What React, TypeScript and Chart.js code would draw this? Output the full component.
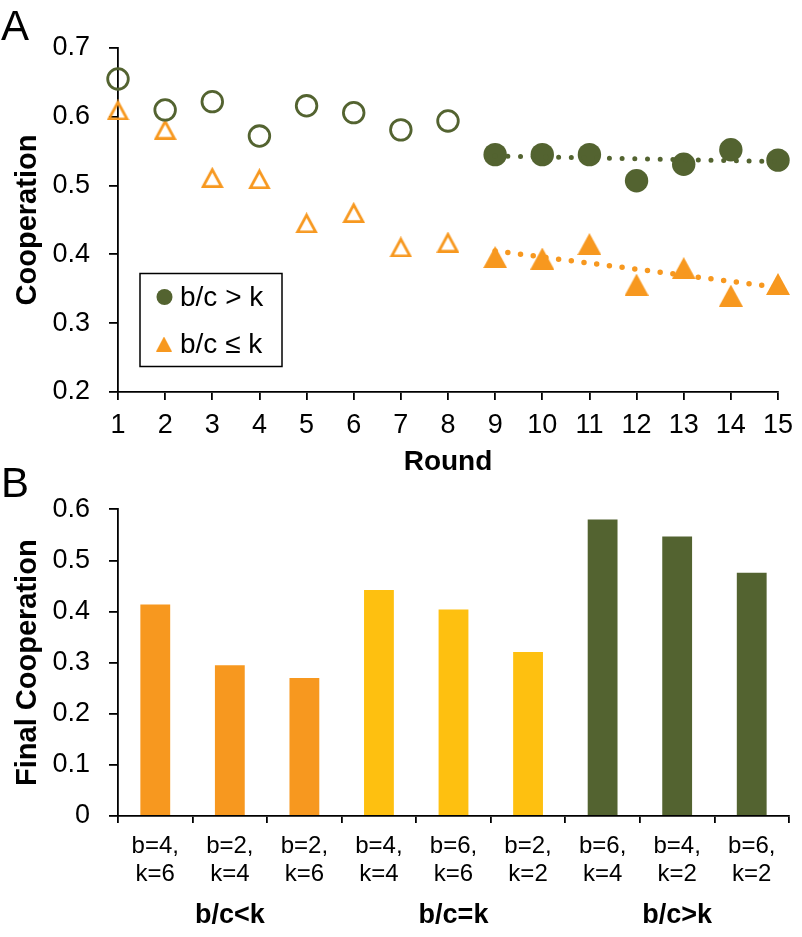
import React, { useEffect, useRef } from "react";
import { Chart, registerables } from "chart.js";

Chart.register(...registerables);

// ---------- Data ----------
const rounds = [1, 2, 3, 4, 5, 6, 7, 8, 9, 10, 11, 12, 13, 14, 15];
const coopHigh = [0.655, 0.61, 0.622, 0.572, 0.616, 0.606, 0.581, 0.594, 0.545, 0.545, 0.545, 0.507, 0.531, 0.552, 0.537];
const coopLow = [0.61, 0.582, 0.512, 0.51, 0.446, 0.461, 0.411, 0.418, 0.396, 0.394, 0.415, 0.356, 0.38, 0.34, 0.357];
const openRoundCount = 8; // rounds 1-8 open markers, 9-15 filled
const trendRounds = [9, 15];
const trendHigh = [0.543, 0.535];
const trendLow = [0.405, 0.352];
const legendLabels = ["b/c > k", "b/c \u2264 k"];

const barLabels = [
  ["b=4,", "k=6"],
  ["b=2,", "k=4"],
  ["b=2,", "k=6"],
  ["b=4,", "k=4"],
  ["b=6,", "k=6"],
  ["b=2,", "k=2"],
  ["b=6,", "k=4"],
  ["b=4,", "k=2"],
  ["b=6,", "k=2"],
];
const barValues = [0.414, 0.295, 0.27, 0.442, 0.404, 0.321, 0.58, 0.547, 0.476];
const barGroupIndex = [0, 0, 0, 1, 1, 1, 2, 2, 2];
const groupLabels = ["b/c<k", "b/c=k", "b/c>k"];

// ---------- Styles ----------
const GREEN = "#536330";
const ORANGE = "#F7981F";
const YELLOW = "#FEC010";
const groupColors = [ORANGE, YELLOW, GREEN];
const FONT = "'Liberation Sans', Arial, Helvetica, sans-serif";

function triangleCanvas(w: number, h: number, color: string, filled: boolean, lw: number) {
  const c = document.createElement("canvas");
  c.width = w;
  c.height = h;
  const ctx = c.getContext("2d")!;
  ctx.beginPath();
  if (filled) {
    ctx.moveTo(w / 2, 0);
    ctx.lineTo(w, h);
    ctx.lineTo(0, h);
  } else {
    ctx.moveTo(w / 2, lw);
    ctx.lineTo(w - lw * 0.87, h - lw / 2);
    ctx.lineTo(lw * 0.87, h - lw / 2);
  }
  ctx.closePath();
  if (filled) {
    ctx.fillStyle = color;
    ctx.fill();
  } else {
    ctx.lineJoin = "miter";
    ctx.lineWidth = lw;
    ctx.strokeStyle = color;
    ctx.stroke();
  }
  return c;
}

const pts = (xs: number[], ys: number[]) => xs.map((x, i) => ({ x, y: ys[i] }));

export default function App() {
  const refA = useRef<HTMLCanvasElement>(null);
  const refB = useRef<HTMLCanvasElement>(null);

  useEffect(() => {
    const openTri = triangleCanvas(23, 21, ORANGE, false, 2.8);
    const fullTri = triangleCanvas(24, 22, ORANGE, true, 0);
    const legendTri = triangleCanvas(16, 15, ORANGE, true, 0);

    const panelLabel = (letter: string, baseline: number) => ({
      id: "panelLabel" + letter,
      afterDraw(chart: any) {
        const ctx = chart.ctx;
        ctx.save();
        ctx.fillStyle = "#000";
        ctx.font = `42px ${FONT}`;
        ctx.textAlign = "left";
        ctx.textBaseline = "alphabetic";
        ctx.fillText(letter, 1, baseline);
        ctx.restore();
      },
    });

    const legendPlugin = {
      id: "customLegend",
      afterDraw(chart: any) {
        const ctx = chart.ctx;
        const a = chart.chartArea;
        const bx = a.left + 22;
        const by = a.top + 225.5;
        ctx.save();
        ctx.strokeStyle = "#000";
        ctx.lineWidth = 1.5;
        ctx.strokeRect(bx, by, 142, 93);
        ctx.fillStyle = GREEN;
        ctx.beginPath();
        ctx.arc(bx + 24.5, by + 23.5, 8, 0, Math.PI * 2);
        ctx.fill();
        ctx.drawImage(legendTri, bx + 16, by + 63);
        ctx.fillStyle = "#000";
        ctx.font = `28px ${FONT}`;
        ctx.textAlign = "left";
        ctx.textBaseline = "alphabetic";
        ctx.fillText(legendLabels[0], bx + 40, by + 32.5);
        ctx.fillText(legendLabels[1], bx + 40, by + 79.5);
        ctx.restore();
      },
    };

    const axisCommon = {
      grid: { drawOnChartArea: false, drawTicks: true, color: "#000", lineWidth: 1.8 },
      border: { color: "#000", width: 1.8 },
    };

    const chartA = new Chart(refA.current!, {
      type: "scatter",
      data: {
        datasets: [
          {
            data: pts(trendRounds, trendHigh),
            showLine: true,
            borderColor: GREEN,
            borderWidth: 5,
            borderDash: [0, 12.7],
            borderCapStyle: "round",
            pointRadius: 0,
            clip: false,
            order: 0,
          } as any,
          {
            data: pts(trendRounds, trendLow),
            showLine: true,
            borderColor: ORANGE,
            borderWidth: 5.5,
            borderDash: [0, 12.8],
            borderCapStyle: "round",
            pointRadius: 0,
            clip: false,
            order: 0,
          },
          {
            data: pts(rounds.slice(0, openRoundCount), coopHigh.slice(0, openRoundCount)),
            pointStyle: "circle",
            pointRadius: 10.3,
            pointBorderWidth: 2.8,
            pointBorderColor: GREEN,
            pointBackgroundColor: "rgba(0,0,0,0)",
            clip: false,
            order: 1,
          },
          {
            data: pts(rounds.slice(openRoundCount), coopHigh.slice(openRoundCount)),
            pointStyle: "circle",
            pointRadius: 11.7,
            pointBorderWidth: 0,
            pointBorderColor: GREEN,
            pointBackgroundColor: GREEN,
            clip: false,
            order: 1,
          },
          {
            data: pts(rounds.slice(0, openRoundCount), coopLow.slice(0, openRoundCount)),
            pointStyle: openTri,
            pointRadius: 11,
            clip: false,
            order: 1,
          },
          {
            data: pts(rounds.slice(openRoundCount), coopLow.slice(openRoundCount)),
            pointStyle: fullTri,
            pointRadius: 12,
            clip: false,
            order: 1,
          },
        ],
      },
      options: {
        responsive: false,
        animation: false,
        devicePixelRatio: 1,
        layout: { padding: { top: 48, right: 19, left: 0, bottom: 0 } },
        plugins: { legend: { display: false }, tooltip: { enabled: false } },
        scales: {
          x: {
            type: "linear",
            min: 1,
            max: 15,
            ...axisCommon,
            grid: { ...axisCommon.grid, tickLength: 8 },
            ticks: {
              stepSize: 1,
              color: "#000",
              font: { family: FONT, size: 27 },
              padding: 9,
              maxRotation: 0,
              autoSkip: false,
            },
            title: {
              display: true,
              text: "Round",
              color: "#000",
              font: { family: FONT, size: 28, weight: "bold" },
              padding: { top: 0, bottom: 1 },
            },
            afterFit: (s: any) => {
              s.height = 88;
            },
          },
          y: {
            min: 0.2,
            max: 0.7,
            ...axisCommon,
            grid: { ...axisCommon.grid, tickLength: 9 },
            ticks: {
              stepSize: 0.1,
              color: "#000",
              font: { family: FONT, size: 27 },
              padding: 19,
              callback: (v: any) => Number(v).toFixed(1),
            },
            title: {
              display: true,
              text: "Cooperation",
              color: "#000",
              font: { family: FONT, size: 29, weight: "bold" },
              padding: { top: 10.5, bottom: 0 },
            },
            afterFit: (s: any) => {
              s.width = 118;
            },
          },
        },
      } as any,
      plugins: [panelLabel("A", 40), legendPlugin],
    });

    const chartB = new Chart(refB.current!, {
      type: "bar",
      data: {
        labels: barLabels,
        datasets: [
          {
            data: barValues,
            backgroundColor: barValues.map((_, i) => groupColors[barGroupIndex[i]]),
            barPercentage: 0.4,
            categoryPercentage: 1,
            xAxisID: "x",
            yAxisID: "y",
          },
        ],
      },
      options: {
        responsive: false,
        animation: false,
        devicePixelRatio: 1,
        layout: { padding: { top: 49.3, right: 13, left: 0, bottom: 0 } },
        plugins: { legend: { display: false }, tooltip: { enabled: false } },
        scales: {
          x: {
            type: "category",
            position: "bottom",
            weight: 0,
            offset: true,
            ...axisCommon,
            grid: { ...axisCommon.grid, tickLength: 7, offset: true },
            ticks: {
              color: "#000",
              font: { family: FONT, size: 24, lineHeight: 1.15 },
              padding: 10,
              maxRotation: 0,
              autoSkip: false,
            },
            afterFit: (s: any) => {
              s.height = 72;
            },
          },
          x2: {
            type: "category",
            position: "bottom",
            weight: 1,
            labels: groupLabels,
            offset: true,
            grid: { display: false, drawTicks: false, drawOnChartArea: false },
            border: { display: false },
            ticks: {
              color: "#000",
              font: { family: FONT, size: 27, weight: "bold" },
              padding: 11.8,
              maxRotation: 0,
              autoSkip: false,
            },
            afterFit: (s: any) => {
              s.height = 49;
            },
          },
          y: {
            min: 0,
            max: 0.6,
            ...axisCommon,
            grid: { ...axisCommon.grid, tickLength: 9 },
            ticks: {
              stepSize: 0.1,
              color: "#000",
              font: { family: FONT, size: 27 },
              padding: 19,
              callback: (v: any) => (Number(v) === 0 ? "0" : Number(v).toFixed(1)),
            },
            title: {
              display: true,
              text: "Final Cooperation",
              color: "#000",
              font: { family: FONT, size: 29, weight: "bold" },
              padding: { top: 10.5, bottom: 0 },
            },
            afterFit: (s: any) => {
              s.width = 118;
            },
          },
        },
      } as any,
      plugins: [panelLabel("B", 37)],
    });

    return () => {
      chartA.destroy();
      chartB.destroy();
    };
  }, []);

  return (
    <div style={{ position: "absolute", left: 0, top: 0, width: 802, height: 937, background: "#fff" }}>
      <canvas ref={refA} width={802} height={480} style={{ position: "absolute", left: 0, top: 0 }} />
      <canvas ref={refB} width={802} height={477} style={{ position: "absolute", left: 0, top: 460 }} />
    </div>
  );
}
